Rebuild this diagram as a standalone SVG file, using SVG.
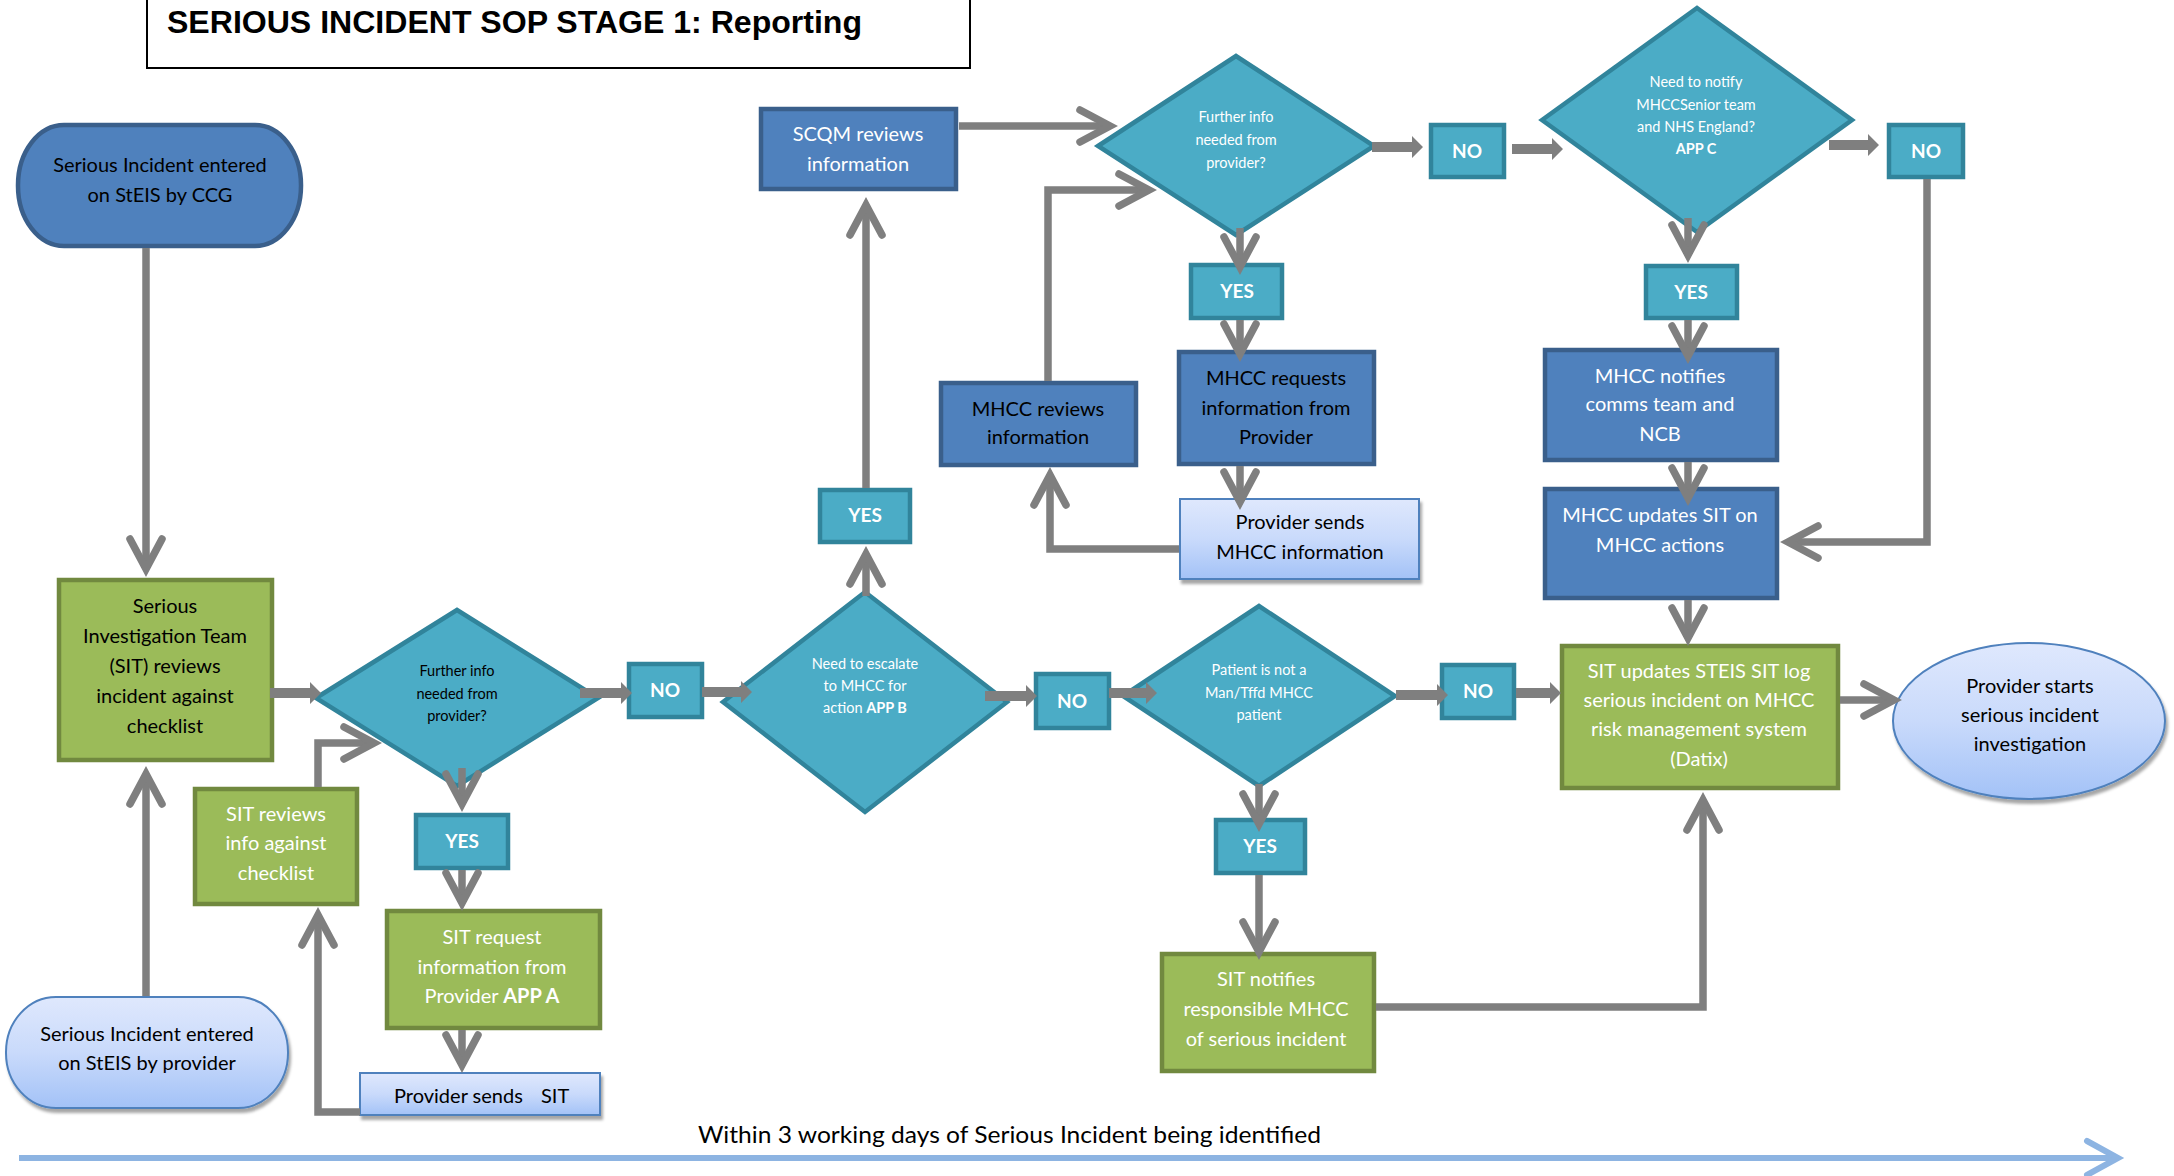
<svg xmlns="http://www.w3.org/2000/svg" width="2174" height="1176" viewBox="0 0 2174 1176">
  <style>
    .blue { fill: #4F81BD; stroke: #3A5F8B; stroke-width: 4.5; }
    .green { fill: #9BBB59; stroke: #71893F; stroke-width: 4.5; }
    .teal { fill: #4BACC6; stroke: #31849B; stroke-width: 4.5; }
    .light { fill: url(#lightGrad); stroke: #4F81BD; stroke-width: 2; filter: url(#shadow); }
    text { font-family: Lato, "Liberation Sans", sans-serif; text-anchor: middle; }
    .t { font-size: 20px; }
    .d { font-size: 14.5px; }
    .yn { font-size: 19px; font-weight: bold; fill: #fff; }
    .w { fill: #fff; }
    .k { fill: #000; }
    .b { font-weight: bold; }
    .conn { fill: none; stroke: #7F7F7F; stroke-width: 7.5; marker-end: url(#chev); }
    .blk { fill: #7F7F7F; }
  </style>
  <defs>
    <linearGradient id="lightGrad" x1="0" y1="0" x2="0" y2="1">
      <stop offset="0" stop-color="#DFE8FD"/>
      <stop offset="0.5" stop-color="#C9DAFB"/>
      <stop offset="1" stop-color="#A3C2F7"/>
    </linearGradient>
    <filter id="shadow" x="-10%" y="-10%" width="125%" height="135%">
      <feDropShadow dx="2" dy="4" stdDeviation="1.5" flood-color="#000" flood-opacity="0.35"/>
    </filter>
    <marker id="chev" markerUnits="userSpaceOnUse" viewBox="-36 -20 40 40" markerWidth="40" markerHeight="40" refX="0" refY="0" orient="auto" overflow="visible">
      <path d="M-30,-16 L0,0 L-30,16" fill="none" stroke="#7F7F7F" stroke-width="7.5" stroke-linecap="round" stroke-linejoin="miter"/>
    </marker>
    <marker id="chevTime" markerUnits="userSpaceOnUse" viewBox="-36 -20 40 40" markerWidth="40" markerHeight="40" refX="0" refY="0" orient="auto" overflow="visible">
      <path d="M-31,-17 L0,0 L-31,17" fill="none" stroke="#8DB4E2" stroke-width="6" stroke-linecap="round" stroke-linejoin="miter"/>
    </marker>
  </defs>

  <rect width="2174" height="1176" fill="#fff"/>

  <!-- title -->
  <g id="title">
    <rect x="147" y="-3" width="823" height="71" fill="#fff" stroke="#000" stroke-width="2"/>
    <text x="167" y="33" style="font-family:'Liberation Sans',Arial,sans-serif;font-size:31px;font-weight:bold;text-anchor:start" textLength="695" lengthAdjust="spacingAndGlyphs">SERIOUS INCIDENT SOP STAGE 1: Reporting</text>
  </g>

  <!-- nodes -->
  <g id="start-ccg">
    <rect class="blue" x="18" y="125" width="283" height="121" rx="46" ry="60"/>
    <text class="t k" x="160" y="172">Serious Incident entered</text>
    <text class="t k" x="160" y="202">on StEIS by CCG</text>
  </g>

  <g id="start-provider">
    <rect class="light" x="6" y="997" width="282" height="111" rx="50" ry="55"/>
    <text class="t k" x="147" y="1041">Serious Incident entered</text>
    <text class="t k" x="147" y="1070">on StEIS by provider</text>
  </g>

  <g id="sit-reviews-incident">
    <rect class="green" x="59" y="580" width="213" height="180"/>
    <text class="t k" x="165" y="613">Serious</text>
    <text class="t k" x="165" y="643">Investigation Team</text>
    <text class="t k" x="165" y="673">(SIT) reviews</text>
    <text class="t k" x="165" y="703">incident against</text>
    <text class="t k" x="165" y="733">checklist</text>
  </g>

  <g id="dec-further-info-sit">
    <polygon class="teal" points="316,698 457,610 598,698 457,786"/>
    <text class="d k" x="457" y="676">Further info</text>
    <text class="d k" x="457" y="699">needed from</text>
    <text class="d k" x="457" y="721">provider?</text>
  </g>

  <g id="no-1">
    <rect class="teal" x="629" y="664" width="73" height="53"/>
    <text class="yn" x="665" y="697">NO</text>
  </g>

  <g id="yes-1">
    <rect class="teal" x="416" y="815" width="92" height="53"/>
    <text class="yn" x="462" y="848">YES</text>
  </g>

  <g id="sit-request">
    <rect class="green" x="387" y="911" width="213" height="117"/>
    <text class="t w" x="492" y="944">SIT request</text>
    <text class="t w" x="492" y="974">information from</text>
    <text class="t w" x="492" y="1003">Provider <tspan class="b">APP A</tspan></text>
  </g>

  <g id="provider-sends-sit">
    <rect class="light" x="360" y="1073" width="240" height="42"/>
    <text class="t k" x="394" y="1103" xml:space="preserve" style="text-anchor:start">Provider sends    <tspan x="541">SIT</tspan></text>
  </g>

  <g id="sit-reviews-info">
    <rect class="green" x="195" y="789" width="162" height="115"/>
    <text class="t w" x="276" y="821">SIT reviews</text>
    <text class="t w" x="276" y="850">info against</text>
    <text class="t w" x="276" y="880">checklist</text>
  </g>

  <g id="dec-escalate">
    <polygon class="teal" points="723,702 865,592 1007,702 865,812"/>
    <text class="d w" x="865" y="669">Need to escalate</text>
    <text class="d w" x="865" y="691">to MHCC for</text>
    <text class="d w" x="865" y="713">action <tspan class="b">APP B</tspan></text>
  </g>

  <g id="yes-2">
    <rect class="teal" x="820" y="490" width="90" height="52"/>
    <text class="yn" x="865" y="522">YES</text>
  </g>

  <g id="scqm-reviews">
    <rect class="blue" x="761" y="109" width="195" height="80"/>
    <text class="t w" x="858" y="141">SCQM reviews</text>
    <text class="t w" x="858" y="171">information</text>
  </g>

  <g id="dec-further-info-mhcc">
    <polygon class="teal" points="1098,146 1236,56 1374,146 1236,235"/>
    <text class="d w" x="1236" y="122">Further info</text>
    <text class="d w" x="1236" y="145">needed from</text>
    <text class="d w" x="1236" y="168">provider?</text>
  </g>

  <g id="yes-3">
    <rect class="teal" x="1191" y="265" width="91" height="53"/>
    <text class="yn" x="1237" y="298">YES</text>
  </g>

  <g id="mhcc-requests">
    <rect class="blue" x="1179" y="352" width="195" height="112"/>
    <text class="t k" x="1276" y="385">MHCC requests</text>
    <text class="t k" x="1276" y="415">information from</text>
    <text class="t k" x="1276" y="444">Provider</text>
  </g>

  <g id="mhcc-reviews">
    <rect class="blue" x="941" y="383" width="195" height="82"/>
    <text class="t k" x="1038" y="416">MHCC reviews</text>
    <text class="t k" x="1038" y="444">information</text>
  </g>

  <g id="provider-sends-mhcc">
    <rect class="light" x="1180" y="499" width="239" height="80"/>
    <text class="t k" x="1300" y="529">Provider sends</text>
    <text class="t k" x="1300" y="559">MHCC information</text>
  </g>

  <g id="no-2">
    <rect class="teal" x="1431" y="125" width="73" height="52"/>
    <text class="yn" x="1467" y="158">NO</text>
  </g>

  <g id="dec-notify">
    <polygon class="teal" points="1542,120 1697,8 1852,120 1697,232"/>
    <text class="d w" x="1696" y="87">Need to notify</text>
    <text class="d w" x="1696" y="110">MHCCSenior team</text>
    <text class="d w" x="1696" y="132">and NHS England?</text>
    <text class="d w b" x="1696" y="154">APP C</text>
  </g>

  <g id="no-3">
    <rect class="teal" x="1889" y="125" width="74" height="52"/>
    <text class="yn" x="1926" y="158">NO</text>
  </g>

  <g id="yes-4">
    <rect class="teal" x="1646" y="266" width="91" height="52"/>
    <text class="yn" x="1691" y="299">YES</text>
  </g>

  <g id="mhcc-notifies">
    <rect class="blue" x="1545" y="350" width="232" height="110"/>
    <text class="t w" x="1660" y="383">MHCC notifies</text>
    <text class="t w" x="1660" y="411">comms team and</text>
    <text class="t w" x="1660" y="441">NCB</text>
  </g>

  <g id="mhcc-updates">
    <rect class="blue" x="1545" y="489" width="232" height="109"/>
    <text class="t w" x="1660" y="522">MHCC updates SIT on</text>
    <text class="t w" x="1660" y="552">MHCC actions</text>
  </g>

  <g id="no-4">
    <rect class="teal" x="1036" y="674" width="73" height="54"/>
    <text class="yn" x="1072" y="708">NO</text>
  </g>

  <g id="dec-patient">
    <polygon class="teal" points="1123,696 1259,606 1395,696 1259,786"/>
    <text class="d w" x="1259" y="675">Patient is not a</text>
    <text class="d w" x="1259" y="698">Man/Tffd MHCC</text>
    <text class="d w" x="1259" y="720">patient</text>
  </g>

  <g id="no-5">
    <rect class="teal" x="1442" y="665" width="72" height="53"/>
    <text class="yn" x="1478" y="698">NO</text>
  </g>

  <g id="yes-5">
    <rect class="teal" x="1216" y="820" width="89" height="53"/>
    <text class="yn" x="1260" y="853">YES</text>
  </g>

  <g id="sit-notifies">
    <rect class="green" x="1162" y="954" width="212" height="117"/>
    <text class="t w" x="1266" y="986">SIT notifies</text>
    <text class="t w" x="1266" y="1016">responsible MHCC</text>
    <text class="t w" x="1266" y="1046">of serious incident</text>
  </g>

  <g id="sit-updates">
    <rect class="green" x="1562" y="646" width="276" height="142"/>
    <text class="t w" x="1699" y="678">SIT updates STEIS SIT log</text>
    <text class="t w" x="1699" y="707">serious incident on MHCC</text>
    <text class="t w" x="1699" y="736">risk management system</text>
    <text class="t w" x="1699" y="766">(Datix)</text>
  </g>

  <g id="provider-starts">
    <ellipse class="light" cx="2029" cy="721" rx="136" ry="78"/>
    <text class="t k" x="2030" y="693">Provider starts</text>
    <text class="t k" x="2030" y="722">serious incident</text>
    <text class="t k" x="2030" y="751">investigation</text>
  </g>

  <!-- connectors -->
  <g id="connectors">
    <path class="conn" d="M146,248 V569"/>
    <path class="conn" d="M146,996 V774"/>
    <path class="conn" d="M462,768 V804"/>
    <path class="conn" d="M462,870 V903"/>
    <path class="conn" d="M462,1030 V1065"/>
    <path class="conn" d="M360,1112 H318 V915"/>
    <path class="conn" d="M318,787 V743 H374"/>
    <path class="conn" d="M866,596 V554"/>
    <path class="conn" d="M866,488 V205"/>
    <path class="conn" d="M959,126 H1110"/>
    <path class="conn" d="M1240,228 V267"/>
    <path class="conn" d="M1240,320 V354"/>
    <path class="conn" d="M1240,466 V502"/>
    <path class="conn" d="M1179,549 H1050 V475"/>
    <path class="conn" d="M1048,381 V190 H1149"/>
    <path class="conn" d="M1688,218 V255"/>
    <path class="conn" d="M1688,320 V356"/>
    <path class="conn" d="M1688,462 V498"/>
    <path class="conn" d="M1927,179 V542 H1788"/>
    <path class="conn" d="M1688,600 V638"/>
    <path class="conn" d="M1840,700 H1894"/>
    <path class="conn" d="M1259,784 V824"/>
    <path class="conn" d="M1259,875 V952"/>
    <path class="conn" d="M1376,1007 H1703 V800"/>

    <polygon class="blk" points="270,688 310,688 310,682 321,693 310,704 310,698 270,698"/>
    <polygon class="blk" points="580,688 621,688 621,682 632,693 621,704 621,698 580,698"/>
    <polygon class="blk" points="702,687 741,687 741,681 752,692 741,703 741,697 702,697"/>
    <polygon class="blk" points="985,691 1026,691 1026,685 1037,696 1026,707 1026,701 985,701"/>
    <polygon class="blk" points="1109,688 1146,688 1146,682 1157,693 1146,704 1146,698 1109,698"/>
    <polygon class="blk" points="1396,690 1437,690 1437,684 1448,695 1437,706 1437,700 1396,700"/>
    <polygon class="blk" points="1516,688 1550,688 1550,682 1561,693 1550,704 1550,698 1516,698"/>
    <polygon class="blk" points="1372,142 1412,142 1412,136 1423,147 1412,158 1412,152 1372,152"/>
    <polygon class="blk" points="1512,144 1552,144 1552,138 1563,149 1552,160 1552,154 1512,154"/>
    <polygon class="blk" points="1829,140 1868,140 1868,134 1879,145 1868,156 1868,150 1829,150"/>
  </g>

  <!-- timeline -->
  <g id="timeline">
    <text x="698" y="1143" style="font-size:24px;text-anchor:start;fill:#000" textLength="623" lengthAdjust="spacingAndGlyphs">Within 3 working days of Serious Incident being identified</text>
    <path d="M19,1158 H2118" fill="none" stroke="#8DB4E2" stroke-width="6" marker-end="url(#chevTime)"/>
  </g>
</svg>
